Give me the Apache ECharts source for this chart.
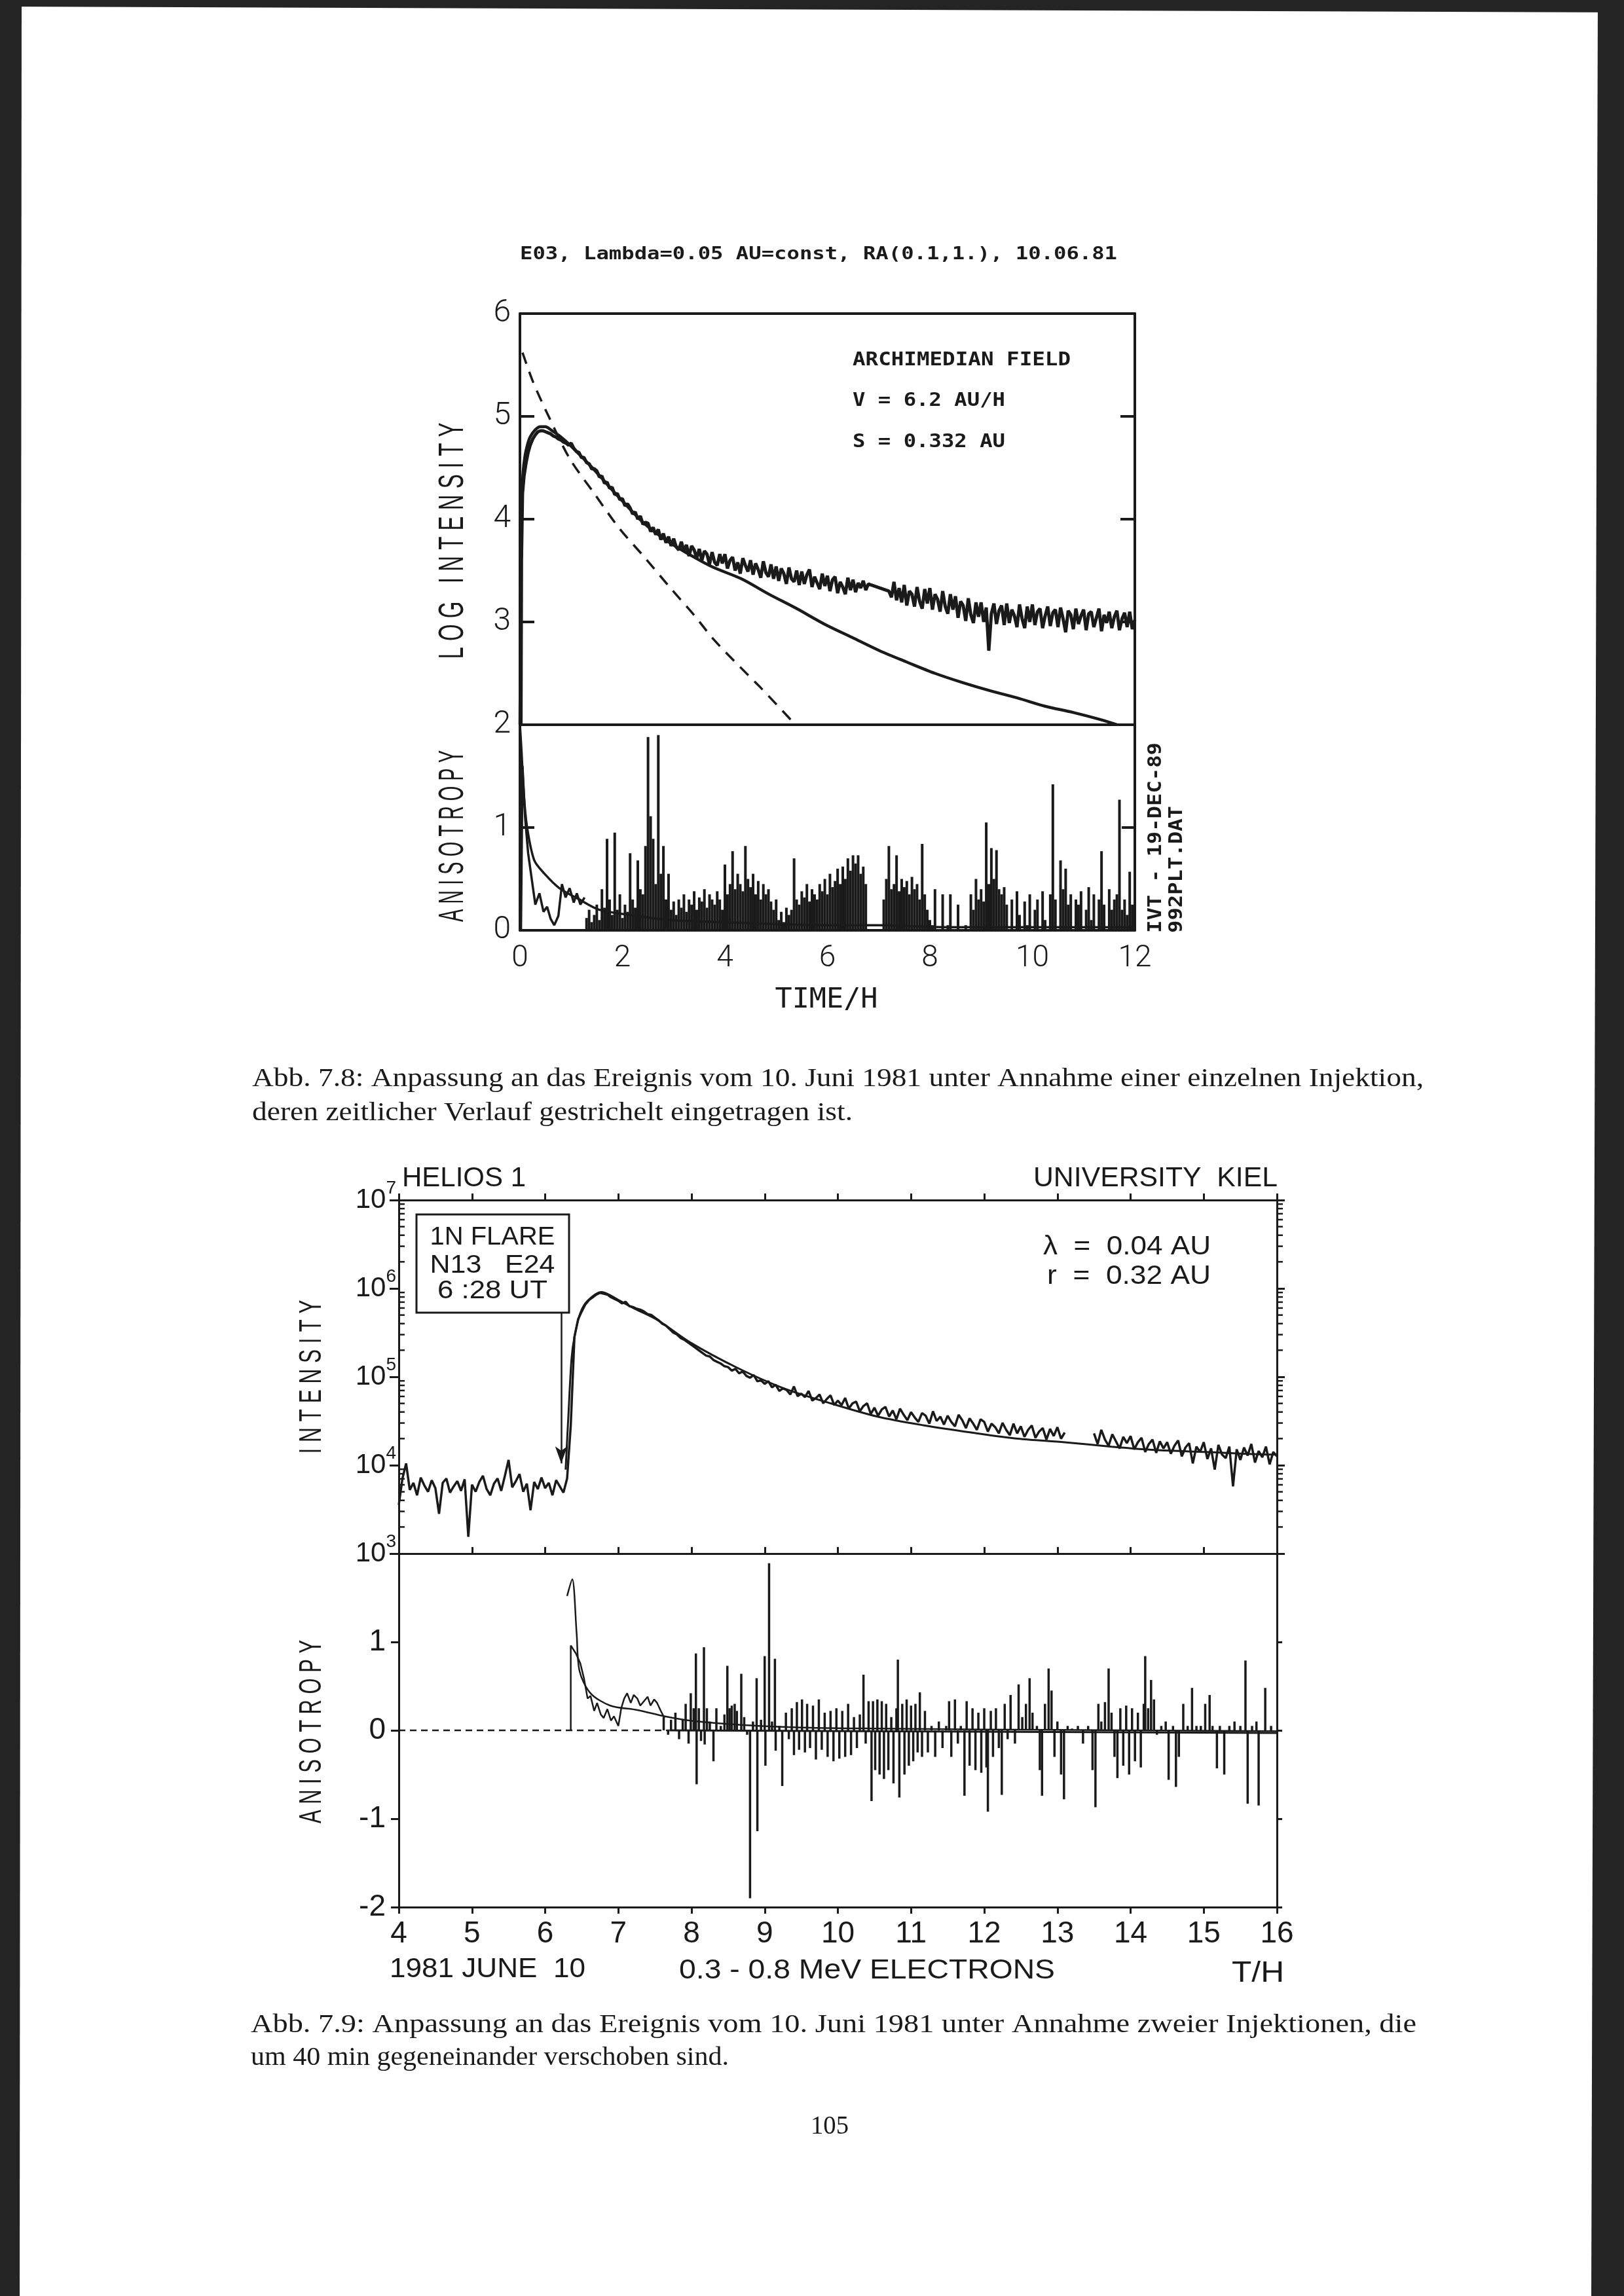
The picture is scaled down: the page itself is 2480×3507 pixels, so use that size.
<!DOCTYPE html>
<html><head><meta charset="utf-8">
<script src="https://cdn.jsdelivr.net/npm/echarts@6/dist/echarts.min.js"></script>
<style>html,body{margin:0;padding:0;background:#fff}#c{width:2480px;height:3507px}</style>
</head><body><div id="c"></div>
<script>
// ================= DATA =================
// --- Abb. 7.8, upper panel: LOG INTENSITY vs TIME/H ---
const fig1ObsEarlyT = [0.02,0.03,0.05,0.08,0.12,0.16,0.20,0.25,0.30,0.35,0.40,0.45,0.50,0.55,0.60,0.65,0.70,0.75,0.80,0.85,0.90,0.95];
const fig1ObsEarlyV = [2.00,3.60,4.25,4.42,4.55,4.65,4.72,4.78,4.82,4.85,4.86,4.86,4.85,4.84,4.83,4.81,4.80,4.78,4.77,4.75,4.74,4.72];
const fig1ObsStart = 1.0, fig1ObsStep = 0.05;   // sampling of the measured trace
const fig1ObsV = [
 4.74,4.69,4.66,4.65,4.60,4.60,4.55,4.54,4.49,4.49,
 4.47,4.41,4.42,4.35,4.36,4.30,4.31,4.24,4.25,4.19,
 4.20,4.13,4.15,4.11,4.05,4.07,4.00,4.03,3.95,3.97,
 3.96,3.88,3.92,3.85,3.90,3.80,3.86,3.77,3.83,3.74,
 3.81,3.73,3.70,3.78,3.69,3.75,3.64,3.74,3.70,3.62,
 3.71,3.60,3.69,3.66,3.56,3.68,3.58,3.55,3.66,3.57,
 3.66,3.52,3.60,3.63,3.50,3.58,3.47,3.62,3.55,3.49,
 3.60,3.46,3.57,3.51,3.43,3.59,3.48,3.44,3.56,3.42,
 3.54,3.40,3.52,3.47,3.37,3.53,3.42,3.39,3.50,3.36,
 3.49,3.37,3.46,3.51,3.34,3.44,3.38,3.32,3.47,3.35,
 3.45,3.30,3.41,3.44,3.28,3.39,3.34,3.27,3.43,3.31,
 3.41,3.29,3.38,3.33,3.40,3.31,3.37,3.36,null,null,
 null,null,null,null,3.30,3.24,3.39,3.21,3.33,3.19,
 3.36,3.16,3.30,3.27,3.15,3.34,3.20,3.13,3.32,3.18,
 3.33,3.12,3.27,3.22,3.10,3.30,3.15,3.08,3.27,3.12,
 3.25,3.04,3.20,3.16,3.01,3.23,3.07,2.99,3.19,3.05,
 3.19,3.00,3.14,2.72,3.08,3.18,2.98,3.11,3.16,2.97,
 3.18,2.99,3.12,3.06,2.95,3.17,3.03,2.94,3.15,3.00,
 3.17,2.97,3.10,3.13,2.94,3.06,3.15,2.96,3.09,3.12,
 2.95,3.14,3.03,2.90,3.11,3.07,2.93,3.13,2.98,3.06,
 3.12,2.92,3.08,3.10,2.95,3.04,3.13,2.91,3.07,2.99,
 3.10,2.94,3.05,3.11,2.92,3.03,3.09,2.95,3.10,2.93,
 3.02];
const fig1ModelT = [0.00,0.03,0.06,0.10,0.15,0.20,0.30,0.40,0.50,0.60,0.80,1.00,1.45,1.90,2.40,2.90,3.40,3.78,4.32,4.86,5.40,5.94,6.48,7.02,7.55,8.10,8.64,9.18,9.71,10.25,10.79,11.33,11.65];
const fig1ModelV = [2.00,4.10,4.45,4.62,4.73,4.80,4.87,4.90,4.90,4.87,4.80,4.71,4.48,4.23,3.97,3.78,3.63,3.53,3.42,3.27,3.13,2.98,2.85,2.72,2.61,2.50,2.41,2.33,2.26,2.18,2.12,2.05,2.00];
const fig1InjT = [0.05,0.26,0.57,0.97,1.45,1.94,2.43,2.92,3.41,3.78,4.32,4.68,5.34];
const fig1InjV = [5.62,5.33,4.99,4.59,4.25,3.91,3.63,3.34,3.06,2.83,2.55,2.37,2.02];
// --- Abb. 7.8, lower panel: ANISOTROPY ---
const fig1AnisoModelT = [0.00,0.03,0.08,0.14,0.28,0.48,0.77,1.16,1.55,2.14,2.92,3.90,5.00,6.00,7.00,8.40,10.00,12.00];
const fig1AnisoModelV = [2.00,1.75,1.30,1.00,0.68,0.55,0.41,0.30,0.20,0.15,0.10,0.08,0.06,0.05,0.05,0.03,0.03,0.03];
const fig1AnisoObsT = [0.02,0.05,0.10,0.16,0.23,0.30,0.38,0.46,0.53,0.60,0.67,0.75,0.82,0.89,0.97,1.05,1.11,1.18,1.26];
const fig1AnisoObsV = [0.00,1.60,1.10,0.75,0.50,0.25,0.36,0.18,0.23,0.11,0.05,0.14,0.45,0.32,0.41,0.27,0.36,0.25,0.32];
const fig1BarStart = 1.30, fig1BarStep = 0.05;
const fig1AnisoBarV = [
 0.12,0.20,0.08,0.15,0.25,0.10,0.40,0.22,0.89,0.30,
 0.15,0.95,0.20,0.35,0.12,0.25,0.18,0.75,0.30,0.22,
 0.68,0.40,0.35,0.82,1.88,1.11,0.89,0.45,1.90,0.55,
 0.82,0.30,0.55,0.20,0.28,0.15,0.30,0.22,0.35,0.18,
 0.30,0.25,0.38,0.20,0.32,0.28,0.40,0.22,0.35,0.30,
 0.25,0.38,0.30,0.20,0.64,0.35,0.45,0.77,0.40,0.55,
 0.45,0.38,0.82,0.50,0.42,0.55,0.35,0.48,0.30,0.45,
 0.35,0.40,0.28,0.20,0.30,0.10,0.18,0.08,0.22,0.15,
 0.20,0.70,0.30,0.25,0.38,0.32,0.45,0.28,0.40,0.35,
 0.30,0.45,0.38,0.50,0.35,0.55,0.42,0.48,0.60,0.45,
 0.62,0.50,0.70,0.58,0.73,0.65,0.73,0.55,0.62,0.45,
 0,0,0,0,0,0,0.30,0.50,0.82,0.40,
 0.45,0.73,0.38,0.50,0.42,0.48,0.35,0.52,0.40,0.45,
 0.30,0.84,0.35,0.20,0.10,0.05,0.40,0,0,0.35,
 0,0.05,0.35,0,0,0.25,0,0,0.05,0,
 0.35,0.20,0.50,0.30,0.40,0.28,1.05,0.45,0.80,0.50,
 0.78,0.40,0.35,0.42,0.25,0,0.30,0,0.38,0.15,
 0,0.28,0.05,0.35,0,0.20,0.30,0,0.38,0.10,
 0,0.35,1.42,0.30,0,0.68,0.40,0.60,0.25,0.35,
 0,0.30,0.25,0.38,0,0.20,0.42,0.10,0.35,0,
 0.30,0.77,0.25,0,0.40,0.20,0.30,0.35,1.27,0.20,
 0.30,0.15,0.57,0.25,0.45];
const fig1XTicks = [0,2,4,6,8,10,12];

// --- Abb. 7.9, upper panel: INTENSITY (log10 values) ---
const fig2ObsStart = 4.0, fig2ObsStep = 0.05;
const fig2ObsLog = [
 3.55,3.85,4.02,3.72,3.80,3.66,3.86,3.77,3.70,3.83,
 3.74,3.45,3.80,3.85,3.69,3.76,3.82,3.71,3.84,3.19,
 3.78,3.70,3.81,3.88,3.73,3.66,3.79,3.85,3.71,3.88,
 4.06,3.75,3.82,3.90,3.70,3.79,3.49,3.81,3.73,3.86,
 3.74,3.80,3.66,3.83,3.76,3.69,3.85,4.45,5.45,5.65,
 5.74,5.82,5.87,5.90,5.93,5.95,5.94,5.93,5.90,5.88,
 5.86,5.83,5.85,5.80,5.79,5.77,5.76,5.74,5.71,5.70,
 5.67,5.64,5.60,5.58,5.54,5.50,5.48,5.44,5.42,5.39,
 5.36,5.33,5.30,5.27,5.24,5.23,5.19,5.17,5.15,5.12,
 5.11,5.07,5.09,5.04,5.06,5.01,4.99,5.02,4.95,4.96,
 4.92,4.95,4.88,4.91,4.84,4.87,4.85,4.80,4.89,4.78,
 4.81,4.77,4.84,4.73,4.76,4.80,4.70,4.75,4.79,4.68,
 4.73,4.68,4.76,4.64,4.70,4.72,4.61,4.67,4.70,4.58,
 4.65,4.56,4.63,4.66,4.55,4.62,4.52,4.64,4.57,4.51,
 4.60,4.54,4.49,4.59,4.56,4.47,4.61,4.50,4.55,4.46,
 4.56,4.49,4.44,4.57,4.51,4.42,4.53,4.47,4.40,4.52,
 4.49,4.38,4.47,4.43,4.36,4.48,4.40,4.34,4.47,4.36,
 4.44,4.32,4.40,4.45,4.31,4.38,4.42,4.29,4.41,4.33,
 4.43,4.30,4.37,null,null,null,null,null,null,null,
 4.36,4.24,4.40,4.29,4.22,4.35,4.27,4.19,4.32,4.25,
 4.33,4.18,4.26,4.31,4.15,4.24,4.29,4.14,4.27,4.19,
 4.26,4.13,4.22,4.28,4.10,4.20,4.25,4.02,4.21,4.15,
 4.26,4.07,4.19,3.95,4.23,4.12,4.08,4.21,3.76,4.18,
 4.06,4.20,4.11,4.24,4.03,4.16,4.09,4.21,4.01,4.15,
 4.10];
const fig2ModelT = [6.28,6.32,6.36,6.40,6.48,6.58,6.77,7.00,7.20,7.54,7.98,8.63,9.26,9.90,10.54,11.18,11.82,12.46,13.10,13.74,14.38,15.02,15.90,16.00];
const fig2ModelLog = [3.95,4.60,5.20,5.45,5.72,5.86,5.96,5.87,5.78,5.64,5.39,5.10,4.87,4.70,4.55,4.45,4.37,4.30,4.26,4.21,4.17,4.15,4.12,4.12];
const fig2FlareArrowT = 6.22;
const fig2FlareArrowLog = [5.73, 4.02];
const fig2MinorTicks = [2e3,3e3,4e3,5e3,6e3,7e3,8e3,9e3,2e4,3e4,4e4,5e4,6e4,7e4,8e4,9e4,2e5,3e5,4e5,5e5,6e5,7e5,8e5,9e5,2e6,3e6,4e6,5e6,6e6,7e6,8e6,9e6];
// --- Abb. 7.9, lower panel: ANISOTROPY ---
const fig2AnisoModelT = [6.30,6.37,6.43,6.47,6.62,6.89,7.26,7.63,7.99,8.72,9.63,10.55,12.00,14.00,16.00];
const fig2AnisoModelV = [1.52,1.71,1.10,0.67,0.42,0.28,0.23,0.16,0.11,0.06,0.03,0.02,0.01,0.00,-0.01];
const fig2AnisoObsT = [6.35,6.35,6.42,6.48,6.53,6.58,6.62,6.67,6.71,6.76,6.80,6.85,6.90,6.94,7.00,7.04,7.08,7.12,7.17,7.21,7.26,7.30,7.35,7.40,7.44,7.49,7.53,7.58,7.63];
const fig2AnisoObsV = [0.00,0.96,0.87,0.76,0.59,0.36,0.39,0.22,0.31,0.18,0.14,0.24,0.11,0.16,0.05,0.25,0.36,0.42,0.31,0.40,0.36,0.28,0.33,0.38,0.28,0.35,0.31,0.22,0.14];
const fig2ZeroDashed = [[4.0,0],[7.7,0]];
const fig2ZeroSolid = [[7.7,0],[16.0,-0.03]];
const fig2AnisoBars = [
 [7.62,0.15],[7.68,-0.05],[7.72,0.12],[7.78,0.20],[7.83,-0.10],[7.88,0.12],[7.92,0.30],[7.96,-0.15],[7.99,0.42],[8.03,0.25],
 [8.06,0.87],[8.07,-0.61],[8.10,0.25],[8.13,-0.12],[8.17,0.94],[8.18,-0.16],[8.21,0.25],[8.25,0.10],[8.30,-0.35],[8.34,0.25],
 [8.40,0.05],[8.45,0.18],[8.49,0.73],[8.52,0.25],[8.55,0.28],[8.59,0.30],[8.62,0.22],[8.68,0.64],[8.72,0.15],[8.76,-0.05],
 [8.80,-1.90],[8.84,0.10],[8.89,0.59],[8.90,-1.14],[8.95,0.12],[9.00,0.84],[9.01,-0.40],[9.06,1.89],[9.10,0.10],[9.14,0.81],
 [9.15,-0.23],[9.20,0.05],[9.24,-0.63],[9.29,0.20],[9.33,-0.10],[9.37,0.25],[9.40,-0.28],[9.44,0.32],[9.47,-0.22],[9.51,0.35],
 [9.55,-0.25],[9.58,0.30],[9.62,-0.20],[9.66,0.28],[9.70,-0.33],[9.74,0.35],[9.78,-0.22],[9.82,0.20],[9.86,-0.30],[9.90,0.22],
 [9.94,-0.35],[9.98,0.25],[10.02,-0.32],[10.06,0.22],[10.10,-0.30],[10.14,0.30],[10.18,-0.28],[10.22,0.15],[10.26,-0.20],[10.30,0.18],
 [10.35,0.63],[10.38,-0.15],[10.42,0.33],[10.46,-0.80],[10.48,0.33],[10.51,-0.45],[10.54,0.35],[10.57,-0.50],[10.60,0.33],[10.63,-0.55],
 [10.66,0.30],[10.69,-0.45],[10.73,0.15],[10.76,-0.60],[10.80,0.25],[10.82,0.80],[10.84,-0.76],[10.88,0.30],[10.91,-0.50],[10.94,0.35],
 [10.97,-0.40],[11.00,0.28],[11.03,-0.35],[11.06,0.30],[11.09,-0.25],[11.12,0.43],[11.15,-0.30],[11.19,0.22],[11.23,-0.25],[11.28,0.05],
 [11.33,-0.30],[11.38,0.10],[11.43,-0.20],[11.48,0.05],[11.52,0.33],[11.55,-0.30],[11.60,0.35],[11.64,-0.15],[11.68,0.05],[11.73,-0.74],
 [11.76,0.33],[11.80,-0.40],[11.84,0.25],[11.88,-0.45],[11.92,0.20],[11.96,-0.48],[12.00,0.25],[12.03,-0.42],[12.05,-0.92],[12.09,0.22],
 [12.12,-0.30],[12.16,0.25],[12.20,-0.20],[12.24,-0.73],[12.28,0.30],[12.32,-0.10],[12.36,0.40],[12.42,-0.15],[12.47,0.52],[12.52,0.15],
 [12.57,0.30],[12.62,0.59],[12.66,0.20],[12.72,0.05],[12.76,-0.45],[12.79,-0.74],[12.83,0.30],[12.88,0.70],[12.92,0.45],[12.96,-0.30],
 [13.00,0.10],[13.05,-0.50],[13.09,-0.78],[13.14,0.05],[13.20,0.02],[13.28,0.05],[13.35,-0.15],[13.42,0.05],[13.48,-0.45],[13.52,-0.87],
 [13.56,0.30],[13.60,0.10],[13.65,0.32],[13.70,0.70],[13.74,0.20],[13.78,-0.30],[13.82,-0.54],[13.86,0.25],[13.90,-0.40],[13.94,0.28],
 [13.98,-0.50],[14.02,0.25],[14.06,-0.35],[14.10,0.20],[14.14,-0.42],[14.18,0.30],[14.20,0.84],[14.24,0.25],[14.28,0.57],[14.32,0.35],
 [14.36,-0.05],[14.42,0.05],[14.48,0.10],[14.52,-0.56],[14.58,0.05],[14.62,-0.64],[14.66,-0.30],[14.72,0.30],[14.78,0.05],[14.84,0.48],
 [14.90,0.05],[14.96,0.05],[15.02,0.30],[15.08,0.40],[15.12,0.05],[15.18,-0.43],[15.22,0.05],[15.28,-0.50],[15.35,0.05],[15.42,0.10],
 [15.50,0.05],[15.57,0.79],[15.60,-0.83],[15.66,0.05],[15.72,0.10],[15.75,-0.85],[15.84,0.48],[15.92,0.05]];

// ================= LAYOUT / STYLE =================
const INK = '#1a1a1a';
const F_PLOT = "'DejaVu Sans Mono', 'Liberation Mono', monospace";
const F_THIN = "Roboto, 'Liberation Sans', sans-serif";
const F_HELV = "'Liberation Sans', Arial, sans-serif";
const F_NARROW = "'Liberation Sans Narrow', 'Liberation Sans', sans-serif";
const F_SERIF = "'Liberation Serif', 'DejaVu Serif', serif";

const mctx = document.createElement('canvas').getContext('2d');
function textWidth(text, weight, size, fam){ mctx.font = weight + ' ' + size + 'px ' + fam; return mctx.measureText(text).width; }
function txt(o){
  const weight = o.weight || 'normal';
  const sx = o.w ? o.w / textWidth(o.text, weight, o.size, o.fam) : (o.sx || 1);
  return { type:'text', x:o.x, y:o.y, rotation:o.rot||0, scaleX:sx, scaleY:1, z:60, silent:true,
    style:{ text:o.text, fontSize:o.size, fontFamily:o.fam, fontWeight:weight, fill:o.color||INK,
      textAlign:o.align||'left', align:o.align||'left', textVerticalAlign:o.valign||'middle', verticalAlign:o.valign||'middle' } };
}

function pairs(ts, vs, f){ return ts.map((t,i)=>[t, f ? f(vs[i]) : vs[i]]); }
function sampled(start, step, vs, f){ return vs.map((v,i)=>[+(start+i*step).toFixed(3), v==null ? null : (f ? f(v) : v)]); }
const pow10 = v => Math.pow(10, v);

const chart = echarts.init(document.getElementById('c'), null, {renderer:'canvas', width:2480, height:3507});

function gridDef(l,t,w,h){ return {left:l, top:t, width:w, height:h, containLabel:false, outerBoundsMode:'none', show:false}; }
function lineAxis(w){ return {show:true, onZero:false, lineStyle:{color:INK, width:w}}; }

const xAxes = [
 {gridIndex:0, type:'value', position:'bottom', min:0, max:12, interval:2, axisLine:lineAxis(4), axisTick:{show:false}, axisLabel:{show:false}, splitLine:{show:false}},
 {gridIndex:0, type:'value', position:'top', min:0, max:12, interval:2, axisLine:lineAxis(4), axisTick:{show:false}, axisLabel:{show:false}, splitLine:{show:false}},
 {gridIndex:1, type:'value', position:'bottom', min:0, max:12, interval:2, axisLine:lineAxis(4), axisTick:{show:false},
   axisLabel:{show:true, margin:20, fontSize:46, fontFamily:F_THIN, fontWeight:300, color:INK, formatter:v=>fig1XTicks.indexOf(v)>=0?String(v):''}, splitLine:{show:false}},
 {gridIndex:2, type:'value', position:'bottom', min:4, max:16, interval:1, axisLine:lineAxis(3), axisTick:{show:true, inside:true, length:10, lineStyle:{color:INK,width:3}}, axisLabel:{show:false}, splitLine:{show:false}},
 {gridIndex:2, type:'value', position:'top', min:4, max:16, interval:1, axisLine:lineAxis(3), axisTick:{show:true, inside:false, length:10, lineStyle:{color:INK,width:3}}, axisLabel:{show:false}, splitLine:{show:false}},
 {gridIndex:3, type:'value', position:'bottom', min:4, max:16, interval:1, axisLine:lineAxis(3), axisTick:{show:true, inside:false, length:10, lineStyle:{color:INK,width:3}},
   axisLabel:{show:true, margin:18, fontSize:46, fontFamily:F_NARROW, color:INK}, splitLine:{show:false}}
];
const expRich = { b:{fontSize:42, fontFamily:F_NARROW, color:INK}, e:{fontSize:28, fontFamily:F_NARROW, color:INK, padding:[0,0,36,0]} };
const yAxes = [
 {gridIndex:0, type:'value', position:'left', min:2, max:6, interval:1, axisLine:lineAxis(4), axisTick:{show:true, inside:true, length:22, lineStyle:{color:INK,width:4}},
   axisLabel:{show:true, margin:14, fontSize:48, fontFamily:F_THIN, fontWeight:300, color:INK}, splitLine:{show:false}},
 {gridIndex:0, type:'value', position:'right', min:2, max:6, interval:1, axisLine:lineAxis(4), axisTick:{show:true, inside:true, length:22, lineStyle:{color:INK,width:4}}, axisLabel:{show:false}, splitLine:{show:false}},
 {gridIndex:1, type:'value', position:'left', min:0, max:2, interval:1, axisLine:lineAxis(4), axisTick:{show:true, inside:true, length:22, lineStyle:{color:INK,width:4}},
   axisLabel:{show:true, margin:14, fontSize:48, fontFamily:F_THIN, fontWeight:300, color:INK, formatter:v=>v===2?'':String(v)}, splitLine:{show:false}},
 {gridIndex:1, type:'value', position:'right', min:0, max:2, interval:1, axisLine:lineAxis(4), axisTick:{show:true, inside:true, length:20, lineStyle:{color:INK,width:4}}, axisLabel:{show:false}, splitLine:{show:false}},
 {gridIndex:2, type:'log', logBase:10, position:'left', min:1e3, max:1e7, axisLine:lineAxis(3), axisTick:{show:true, inside:false, length:14, lineStyle:{color:INK,width:3}},
   axisLabel:{show:true, margin:4, formatter:v=>'{b|10}{e|'+Math.round(Math.log10(v))+'}', rich:expRich}, splitLine:{show:false}, minorTick:{show:false}},
 {gridIndex:2, type:'log', logBase:10, position:'right', min:1e3, max:1e7, axisLine:lineAxis(3), axisTick:{show:true, inside:false, length:12, lineStyle:{color:INK,width:3}}, axisLabel:{show:false}, splitLine:{show:false}},
 {gridIndex:3, type:'value', position:'left', min:-2, max:2, interval:1, axisLine:lineAxis(3), axisTick:{show:true, inside:false, length:12, lineStyle:{color:INK,width:3}},
   axisLabel:{show:true, margin:20, fontSize:46, fontFamily:F_NARROW, color:INK, formatter:v=>v===2?'':String(v)}, splitLine:{show:false}},
 {gridIndex:3, type:'value', position:'right', min:-2, max:2, interval:1, axisLine:lineAxis(3), axisTick:{show:true, inside:false, length:8, lineStyle:{color:INK,width:3}}, axisLabel:{show:false}, splitLine:{show:false}}
];

function line(xi, yi, data, w, extra){
  return Object.assign({type:'line', xAxisIndex:xi, yAxisIndex:yi, data:data, symbol:'none', showSymbol:false, silent:true,
    lineStyle:{color:INK, width:w}, z:5}, extra||{});
}

const series = [
 // Abb. 7.8 upper
 line(0,0, pairs(fig1ObsEarlyT, fig1ObsEarlyV).concat(sampled(fig1ObsStart, fig1ObsStep, fig1ObsV)), 5, {connectNulls:true}),
 line(0,0, pairs(fig1ModelT, fig1ModelV), 4.5, {smooth:0.3}),
 line(0,0, pairs(fig1InjT, fig1InjV), 3.5, {smooth:0.3, lineStyle:{color:INK, width:3.5, type:[18,13]}}),
 // Abb. 7.8 lower
 {type:'bar', xAxisIndex:2, yAxisIndex:2, data:sampled(fig1BarStart, fig1BarStep, fig1AnisoBarV), barWidth:4, itemStyle:{color:INK}, silent:true, z:3},
 line(2,2, pairs(fig1AnisoModelT, fig1AnisoModelV), 3.5, {smooth:0.3}),
 line(2,2, pairs(fig1AnisoObsT, fig1AnisoObsV), 3.5),
 // Abb. 7.9 upper
 line(3,4, sampled(fig2ObsStart, fig2ObsStep, fig2ObsLog, pow10), 3.5, {connectNulls:false,
   markLine:{silent:true, symbol:['none','arrow'], symbolSize:[14,26], label:{show:false},
     lineStyle:{color:INK, width:2.5, type:'solid'},
     data:[[{coord:[fig2FlareArrowT, pow10(fig2FlareArrowLog[0])]},{coord:[fig2FlareArrowT, pow10(fig2FlareArrowLog[1])]}]]}}),
 line(3,4, pairs(fig2ModelT, fig2ModelLog, pow10), 3, {smooth:0.3}),
 {type:'custom', xAxisIndex:3, yAxisIndex:4, clip:false, silent:true, z:6,
  data: fig2MinorTicks.map(v=>[4, v]),
  renderItem:function(params, api){
    const y = api.coord([4, api.value(1)])[1];
    const cs = params.coordSys;
    const st = {stroke:INK, lineWidth:2.5};
    return {type:'group', children:[
      {type:'line', shape:{x1:cs.x, y1:y, x2:cs.x+9, y2:y}, style:st},
      {type:'line', shape:{x1:cs.x+cs.width, y1:y, x2:cs.x+cs.width+9, y2:y}, style:st}
    ]};
  }},
 // Abb. 7.9 lower
 {type:'bar', xAxisIndex:5, yAxisIndex:6, data:fig2AnisoBars, barWidth:3.5, itemStyle:{color:INK}, silent:true, z:3},
 line(5,6, fig2ZeroDashed, 2.5, {lineStyle:{color:INK, width:2.5, type:[10,7]}}),
 line(5,6, fig2ZeroSolid, 3),
 line(5,6, pairs(fig2AnisoModelT, fig2AnisoModelV), 2.5, {smooth:0.3}),
 line(5,6, pairs(fig2AnisoObsT, fig2AnisoObsV), 2.5)
];

const graphics = [
 // scanned page edges
 {type:'polygon', z:200, silent:true, shape:{points:[[0,0],[2480,0],[2480,19],[0,10]]}, style:{fill:'#242424'}},
 {type:'polygon', z:200, silent:true, shape:{points:[[0,0],[33,0],[30,3507],[0,3507]]}, style:{fill:'#242424'}},
 {type:'polygon', z:200, silent:true, shape:{points:[[2440,0],[2480,0],[2480,3507],[2430,3507]]}, style:{fill:'#242424'}},
 // Abb. 7.8 texts
 txt({text:'E03, Lambda=0.05 AU=const, RA(0.1,1.), 10.06.81', x:1250, y:389, size:27, fam:F_PLOT, weight:'bold', align:'center', w:912}),
 txt({text:'ARCHIMEDIAN FIELD', x:1302, y:551, size:28, fam:F_PLOT, weight:'bold', w:333}),
 txt({text:'V = 6.2 AU/H', x:1302, y:613, size:28, fam:F_PLOT, weight:'bold', w:233}),
 txt({text:'S = 0.332 AU', x:1302, y:676, size:28, fam:F_PLOT, weight:'bold', w:233}),
 txt({text:'L O G   I N T E N S I T Y', x:692, y:826, size:54, fam:F_HELV, align:'center', rot:Math.PI/2, w:361}),
 txt({text:'A N I S O T R O P Y', x:692, y:1277, size:54, fam:F_HELV, align:'center', rot:Math.PI/2, w:262}),
 txt({text:'TIME/H', x:1262, y:1528, size:42, fam:F_PLOT, align:'center', w:157}),
 txt({text:'IVT - 19-DEC-89', x:1765, y:1425, size:29, fam:F_PLOT, weight:'bold', align:'left', rot:Math.PI/2, w:291}),
 txt({text:'992PLT.DAT', x:1797, y:1425, size:29, fam:F_PLOT, weight:'bold', align:'left', rot:Math.PI/2, w:194}),
 // caption 7.8
 txt({text:'Abb. 7.8: Anpassung an das Ereignis vom 10. Juni 1981 unter Annahme einer einzelnen Injektion,', x:385, y:1648, size:41, fam:F_SERIF, w:1789}),
 txt({text:'deren zeitlicher Verlauf gestrichelt eingetragen ist.', x:385, y:1700, size:41, fam:F_SERIF, w:917}),
 // Abb. 7.9 texts
 txt({text:'HELIOS 1', x:614, y:1800, size:42, fam:F_HELV, w:189}),
 txt({text:'UNIVERSITY  KIEL', x:1951, y:1800, size:42, fam:F_HELV, align:'right', w:373}),
 {type:'rect', z:60, silent:true, shape:{x:636, y:1855, width:233, height:150}, style:{fill:'#fff', stroke:INK, lineWidth:3}},
 txt({text:'1N FLARE', x:752, y:1891, size:38, fam:F_HELV, align:'center', w:191}),
 txt({text:'N13   E24', x:752, y:1934, size:38, fam:F_HELV, align:'center', w:191}),
 txt({text:'6 :28 UT', x:752, y:1973, size:38, fam:F_HELV, align:'center', w:168}),
 txt({text:'λ  =  0.04 AU', x:1593, y:1905, size:40, fam:F_HELV, w:256}),
 txt({text:'r  =  0.32 AU', x:1599, y:1950, size:40, fam:F_HELV, w:250}),
 txt({text:'I N T E N S I T Y', x:477, y:2103, size:48, fam:F_HELV, align:'center', rot:Math.PI/2, w:235}),
 txt({text:'A N I S O T R O P Y', x:477, y:2645, size:48, fam:F_HELV, align:'center', rot:Math.PI/2, w:280}),
 txt({text:'1981 JUNE  10', x:595, y:3008, size:42, fam:F_HELV, w:299}),
 txt({text:'0.3 - 0.8 MeV ELECTRONS', x:1037, y:3010, size:42, fam:F_HELV, w:574}),
 txt({text:'T/H', x:1881, y:3015, size:44, fam:F_HELV, w:80}),
 // caption 7.9
 txt({text:'Abb. 7.9: Anpassung an das Ereignis vom 10. Juni 1981 unter Annahme zweier Injektionen, die', x:383, y:3093, size:41, fam:F_SERIF, w:1780}),
 txt({text:'um 40 min gegeneinander verschoben sind.', x:383, y:3143, size:41, fam:F_SERIF, w:730}),
 txt({text:'105', x:1267, y:3248, size:41, fam:F_SERIF, align:'center', w:58})
];

chart.setOption({
  animation:false,
  backgroundColor:'#ffffff',
  grid:[gridDef(794,479,939,628), gridDef(794,1107,939,314), gridDef(609,1833,1341,540), gridDef(609,2373,1341,540)],
  xAxis:xAxes,
  yAxis:yAxes,
  series:series,
  graphic:graphics
});
</script></body></html>
